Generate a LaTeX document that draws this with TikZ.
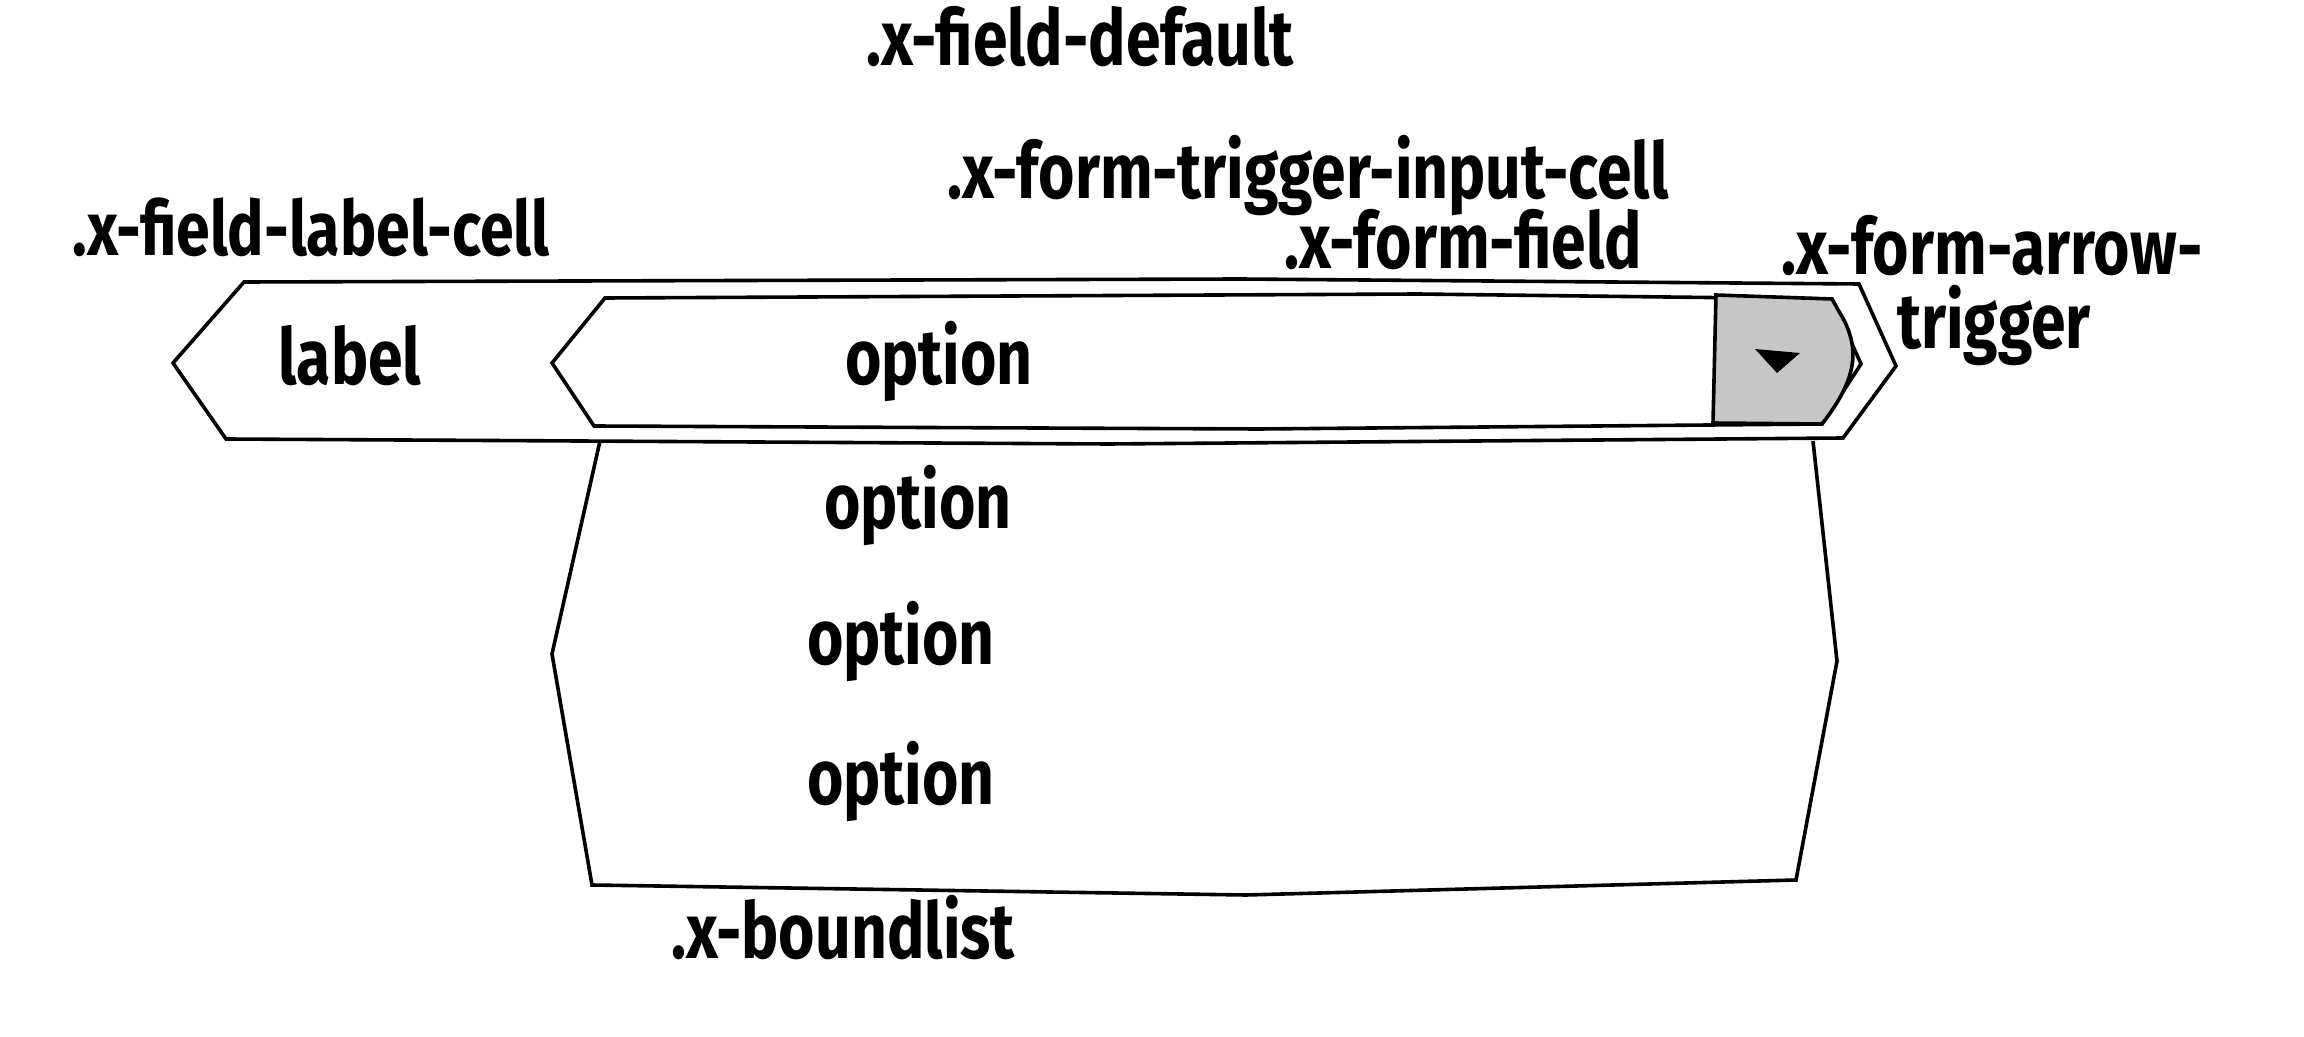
\documentclass[tikz,border=0pt]{standalone}
\usepackage{fontspec}
\setmainfont{Fira Sans}[FakeStretch=0.8]
\definecolor{trig}{RGB}{198,198,198}
\tikzset{
  outline/.style={draw=black, line width=1.8pt},
  lbl/.style={anchor=base, inner sep=0pt, font=\fontsize{39}{37.5}\selectfont\bfseries},
}
\begin{document}
\begin{tikzpicture}[x=0.5pt,y=-0.5pt]
\useasboundingbox (0,0) rectangle (2304,1037);
% boundlist
\draw[outline] (600,441) -- (552,654) -- (592,885) -- (1246,895) -- (1796,880) -- (1837,661) -- (1813,441);
% outer label cell
\draw[outline, fill=white] (173,363) -- (244,282) -- (1240,279) -- (1859,284) -- (1896,366) -- (1843,438) -- (1109,444) -- (226,439) -- cycle;
% form field
\draw[outline, fill=white] (552,363) -- (605,298) -- (1418,294) -- (1832,299) -- (1861,364) -- (1822,424) -- (1259,429) -- (594,426) -- cycle;
% trigger
\draw[outline, fill=trig] (1716,295) -- (1832,299) -- (1845,322) .. controls (1858,350) and (1858,378) .. (1822,424) -- (1713,423) -- cycle;
\fill[black] (1755,349) -- (1800,353) -- (1777,373) -- cycle;
% texts
\node[lbl] (tdefault) at (1080,66) {.x-field-default};
\node[lbl] (tinput) at (1308,199) {.x-form-trigger-input-cell};
\node[lbl] (tlabelcell) at (311,256) {\fontsize{38}{37.5}\selectfont .x-field-label-cell};
\node[lbl] (tfield) at (1463,269) {.x-form-field};
\node[lbl] (tarrowA) at (1992,275) {.x-form-arrow-};
\node[lbl] (tarrowB) at (1994,349) {trigger};
\node[lbl] (tlabel) at (350,385) {label};
\node[lbl] (opt1) at (939,385) {option};
\node[lbl] (opt2) at (918,529) {option};
\node[lbl] (opt3) at (901,664) {option};
\node[lbl] (opt4) at (901,804) {option};
\node[lbl] (tbound) at (843,958) {.x-boundlist};
\end{tikzpicture}
\end{document}
